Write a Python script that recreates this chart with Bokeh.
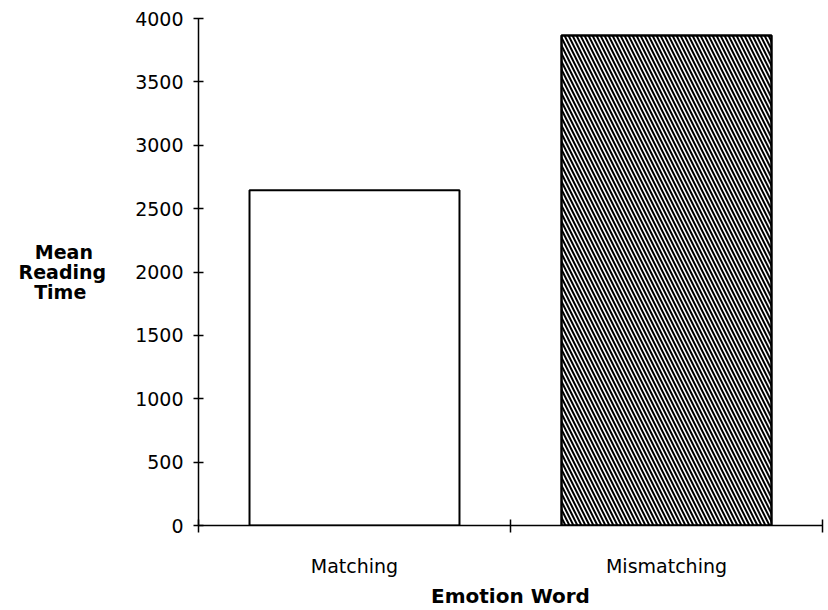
from bokeh.plotting import figure
from bokeh.models import FixedTicker, Range1d, ColumnDataSource
from bokeh.embed import file_html
from bokeh.resources import INLINE

categories = ["Matching", "Mismatching"]
mean_reading_time = [2645, 3865]
y_ticks = [0, 500, 1000, 1500, 2000, 2500, 3000, 3500, 4000]
NB = "\u00a0"
y_title = "Mean" + NB * 2 + "\nReading\nTime" + NB * 3
x_title = "Emotion Word"

x_pos = [i + 0.5 for i in range(len(categories))]
FONT = "DejaVu Sans"

p = figure(width=826, height=610, output_backend="svg", toolbar_location=None,
           x_range=Range1d(0, len(categories)), y_range=Range1d(0, 4000),
           min_border_left=198, min_border_right=4, min_border_top=18, min_border_bottom=85)
p.outline_line_color = None
p.xgrid.visible = False
p.ygrid.visible = False
p.background_fill_color = "white"
p.border_fill_color = "white"

src1 = ColumnDataSource(dict(x=[x_pos[0]], top=[mean_reading_time[0]]))
src2 = ColumnDataSource(dict(x=[x_pos[1]], top=[mean_reading_time[1]]))
p.vbar(x="x", top="top", bottom=0, width=0.673, source=src1,
       fill_color="white", line_color="black", line_width=2)
p.vbar(x="x", top="top", bottom=0, width=0.673, source=src2,
       fill_color="white", line_color="black", line_width=2.5,
       hatch_pattern="\\", hatch_color="black", hatch_scale=8, hatch_weight=2)

# x axis
xa = p.xaxis[0]
xa.ticker = FixedTicker(ticks=x_pos, minor_ticks=list(range(len(categories) + 1)))
xa.major_label_overrides = {x_pos[i]: categories[i] for i in range(len(categories))}
xa.major_tick_in = 0
xa.major_tick_out = 0
xa.minor_tick_in = 6
xa.minor_tick_out = 7
xa.minor_tick_line_color = "black"
xa.minor_tick_line_width = 1.5
xa.axis_line_width = 1.5
xa.axis_line_color = "black"
xa.major_label_standoff = 22
xa.major_label_text_font = FONT
xa.major_label_text_font_size = "19px"
xa.major_label_text_color = "black"
xa.axis_label = x_title
xa.axis_label_text_font = FONT
xa.axis_label_text_font_style = "bold"
xa.axis_label_text_font_size = "20px"
xa.axis_label_text_color = "black"
xa.axis_label_standoff = 4

# y axis
ya = p.yaxis[0]
ya.ticker = FixedTicker(ticks=y_ticks, minor_ticks=[])
ya.major_tick_in = 5
ya.major_tick_out = 5
ya.major_tick_line_width = 1.5
ya.axis_line_width = 1.5
ya.axis_line_color = "black"
ya.major_label_standoff = 10
ya.major_label_text_font = FONT
ya.major_label_text_font_size = "19px"
ya.major_label_text_color = "black"
ya.axis_label = y_title
ya.axis_label_orientation = "horizontal"
ya.axis_label_text_font = FONT
ya.axis_label_text_font_style = "bold"
ya.axis_label_text_font_size = "19px"
ya.axis_label_text_color = "black"
ya.axis_label_text_line_height = 0.92
ya.axis_label_standoff = 26

open("out.html", "w").write(file_html(p, INLINE))
